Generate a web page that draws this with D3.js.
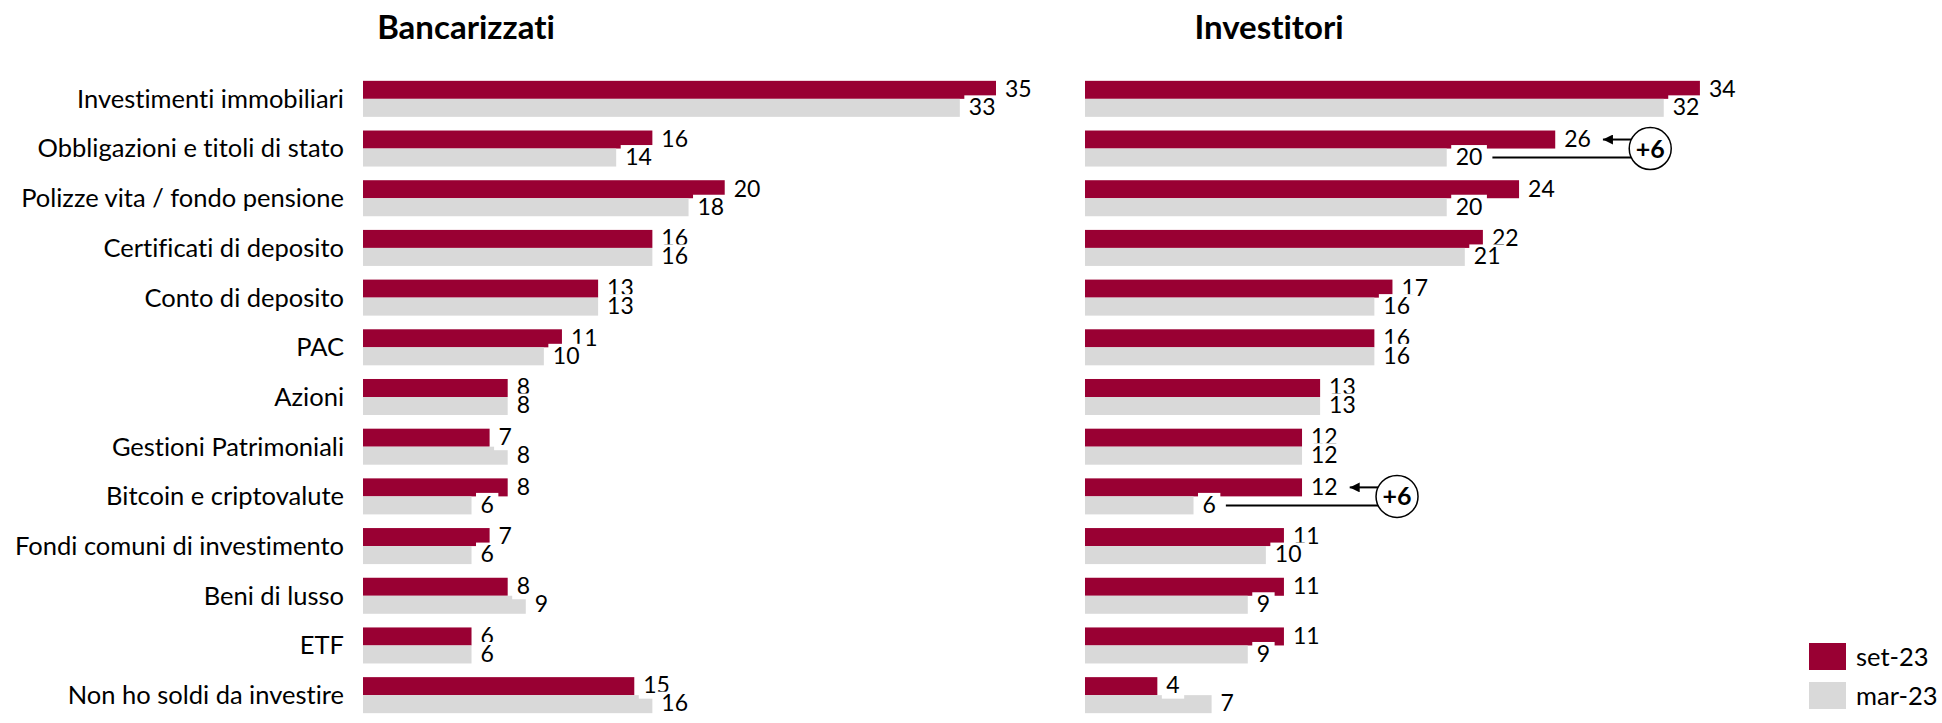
<!DOCTYPE html>
<html>
<head>
<meta charset="utf-8">
<script src="https://cdn.jsdelivr.net/npm/d3@7"></script>
<style>
  body { margin: 0; background: #fff; }
  text { font-family: Lato, "Open Sans", sans-serif; font-variant-ligatures: none; }
</style>
</head>
<body>
<svg id="chart" width="1942" height="723"></svg>
<script>
// categories, top to bottom
const categories = [
    "Investimenti immobiliari",
    "Obbligazioni e titoli di stato",
    "Polizze vita / fondo pensione",
    "Certificati di deposito",
    "Conto di deposito",
    "PAC",
    "Azioni",
    "Gestioni Patrimoniali",
    "Bitcoin e criptovalute",
    "Fondi comuni di investimento",
    "Beni di lusso",
    "ETF",
    "Non ho soldi da investire"
];

const bancarizzatiSet = [35, 16, 20, 16, 13, 11, 8, 7, 8, 7, 8, 6, 15];
const bancarizzatiMar = [33, 14, 18, 16, 13, 10, 8, 8, 6, 6, 9, 6, 16];
const investitoriSet = [34, 26, 24, 22, 17, 16, 13, 12, 12, 11, 11, 11, 4];
const investitoriMar = [32, 20, 20, 21, 16, 16, 13, 12, 6, 10, 9, 9, 7];

const panelTitles = ["Bancarizzati", "Investitori"];
const seriesNames = ["set-23", "mar-23"];
const seriesColors = ["#990033", "#d9d9d9"];

// "+6" callouts on the Investitori panel
const callouts = [
    { category: "Obbligazioni e titoli di stato", text: "+6" },
    { category: "Bitcoin e criptovalute", text: "+6" }
];

const svg = d3.select("#chart");

const panels = [
    { title: panelTitles[0], left: 363, titleX: 466, series: [bancarizzatiSet, bancarizzatiMar] },
    { title: panelTitles[1], left: 1085, titleX: 1269, series: [investitoriSet, investitoriMar] }
];

// same value scale for both panels
const x = d3.scaleLinear().domain([0, 35]).range([0, 633]);

const y = d3.scaleBand()
    .domain(categories)
    .range([74, 720])
    .paddingInner(0.275)
    .paddingOuter(0.1375);

const barH = y.bandwidth() / 2;
const valueSize = 23;
const labelSize = 25.5;

// arrow head
svg.append("defs").append("marker")
    .attr("id", "arrowhead")
    .attr("viewBox", "0 0 10 10")
    .attr("refX", 10)
    .attr("refY", 5)
    .attr("markerWidth", 6)
    .attr("markerHeight", 5)
    .attr("markerUnits", "strokeWidth")
    .attr("orient", "auto")
    .append("path")
    .attr("d", "M0,0 L10,5 L0,10 Z")
    .attr("fill", "#000");

// category labels (left side only)
svg.append("g")
    .selectAll("text")
    .data(categories)
    .join("text")
    .attr("x", panels[0].left - 19)
    .attr("y", d => y(d) + y.bandwidth() / 2)
    .attr("dy", "0.35em")
    .attr("text-anchor", "end")
    .attr("font-size", labelSize)
    .attr("fill", "#000")
    .text(d => d);

panels.forEach((panel, pi) => {
    const g = svg.append("g").attr("transform", `translate(${panel.left},0)`);

    svg.append("text")
        .attr("x", panel.titleX)
        .attr("y", 39)
        .attr("text-anchor", "middle")
        .attr("font-size", 33)
        .attr("font-weight", "bold")
        .attr("fill", "#000")
        .text(panel.title);

    // bars
    panel.series.forEach((vals, si) => {
        g.append("g")
            .selectAll("rect")
            .data(vals)
            .join("rect")
            .attr("x", 0)
            .attr("y", (d, i) => y(categories[i]) + si * barH)
            .attr("width", d => x(d))
            .attr("height", barH)
            .attr("fill", seriesColors[si]);
    });

    // value labels with white boxes, mar-23 drawn last so it sits on top
    const labelEnds = [[], []];
    panel.series.forEach((vals, si) => {
        vals.forEach((v, i) => {
            const cy = y(categories[i]) + si * barH + barH / 2 - 1;
            const lg = g.append("g");
            const box = lg.append("rect").attr("fill", "#fff");
            const t = lg.append("text")
                .attr("x", x(v) + 9)
                .attr("y", cy)
                .attr("dy", "0.36em")
                .attr("font-size", valueSize)
                .attr("fill", "#000")
                .text(v);
            const bb = t.node().getBBox();
            box.attr("x", x(v) + 4.5)
                .attr("y", cy - 11.5)
                .attr("width", bb.width + 9)
                .attr("height", 25);
            labelEnds[si][i] = x(v) + 9 + bb.width;
        });
    });

    if (pi === 1) {
        callouts.forEach(c => {
            const i = categories.indexOf(c.category);
            const top = y(c.category);
            const cyRed = top + barH / 2;
            const cyGray = top + barH * 1.5;
            const cyMid = top + barH;
            const cx = x(Math.max(panel.series[0][i], panel.series[1][i])) + 95;
            const r = 21;
            const dx = Math.sqrt(r * r - (barH / 2) * (barH / 2));

            g.append("line")
                .attr("x1", labelEnds[1][i] + 10)
                .attr("x2", cx - dx)
                .attr("y1", cyGray)
                .attr("y2", cyGray)
                .attr("stroke", "#000")
                .attr("stroke-width", 2);

            g.append("line")
                .attr("x1", cx - dx)
                .attr("x2", labelEnds[0][i] + 12)
                .attr("y1", cyRed)
                .attr("y2", cyRed)
                .attr("stroke", "#000")
                .attr("stroke-width", 2)
                .attr("marker-end", "url(#arrowhead)");

            g.append("circle")
                .attr("cx", cx)
                .attr("cy", cyMid)
                .attr("r", r)
                .attr("fill", "#fff")
                .attr("stroke", "#000")
                .attr("stroke-width", 1.5);

            g.append("text")
                .attr("x", cx)
                .attr("y", cyMid)
                .attr("dy", "0.36em")
                .attr("text-anchor", "middle")
                .attr("font-size", 25)
                .attr("font-weight", "bold")
                .attr("fill", "#000")
                .text(c.text);
        });
    }
});

// legend
const legend = svg.append("g").attr("transform", "translate(1809,643)");
seriesNames.forEach((name, i) => {
    legend.append("rect")
        .attr("x", 0)
        .attr("y", i * 39)
        .attr("width", 37)
        .attr("height", 27)
        .attr("fill", seriesColors[i]);
    legend.append("text")
        .attr("x", 47)
        .attr("y", i * 39 + 13.5)
        .attr("dy", "0.36em")
        .attr("font-size", labelSize)
        .attr("fill", "#000")
        .text(name);
});
</script>
</body>
</html>
